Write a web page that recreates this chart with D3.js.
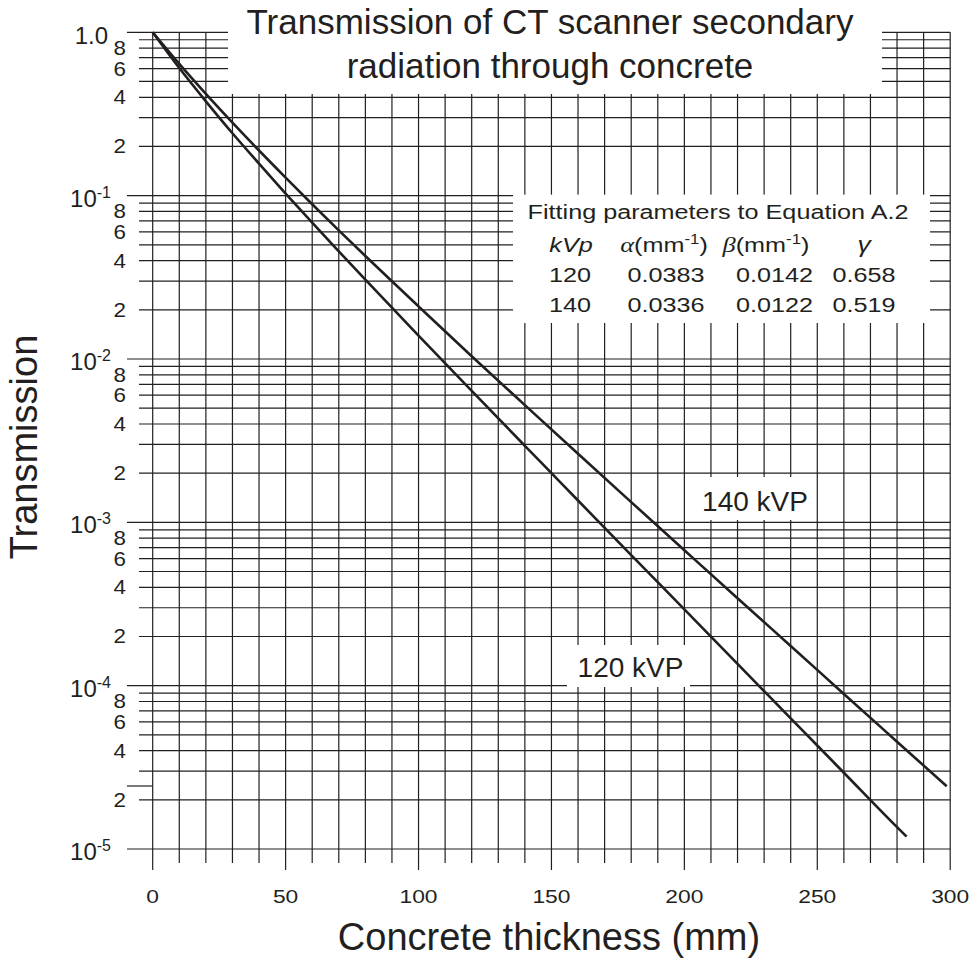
<!DOCTYPE html>
<html><head><meta charset="utf-8">
<script src="https://cdn.jsdelivr.net/npm/d3@7"></script>
<style>
body{margin:0;background:#fff}
svg{display:block}
text{font-family:"Liberation Sans",Arial,Helvetica,sans-serif;fill:#231f20}
</style>
</head><body>
<svg id="c" width="977" height="963"></svg>
<script>
// ---- data ----
const thickness120 = [0,10,20,30,40,50,60,70,80,90,100,120,140,150,160,180,200,220,240,250,260,280,283.6];
const transmission120 = [1.0,0.604,0.378,0.241,0.157,0.103,0.0683,0.0456,0.0306,0.0206,0.0139,0.00637,0.00294,0.00200,0.00136,6.30e-4,2.93e-4,1.36e-4,6.30e-5,4.30e-5,2.93e-5,1.36e-5,1.19e-5];
const thickness140 = [0,10,20,30,40,50,60,70,80,90,100,120,140,160,180,200,220,240,260,280,298.7];
const transmission140 = [1.0,0.641,0.420,0.280,0.189,0.129,0.0886,0.0613,0.0427,0.0299,0.0210,0.0104,0.00522,0.00263,0.00133,6.75e-4,3.43e-4,1.75e-4,8.90e-5,4.54e-5,2.42e-5];
const xTickValues = [0,50,100,150,200,250,300];
const decadeExponents = [0,-1,-2,-3,-4,-5];
const minorMultipliers = [2,3,4,5,6,7,8,9];
const minorLabelDigits = [8,6,4,2];
const titleLines = ["Transmission of CT scanner secondary","radiation through concrete"];
const xTitle = "Concrete thickness (mm)";
const yTitle = "Transmission";
const tableTitle = "Fitting parameters to Equation A.2";
const tableKVp = ["120","140"];
const tableAlpha = ["0.0383","0.0336"];
const tableBeta = ["0.0142","0.0122"];
const tableGamma = ["0.658","0.519"];
const curveLabels = ["120 kVP","140 kVP"];
const strayTickValue = 2.43e-5;

// ---- drawing ----
const ink = "#231f20";
const svg = d3.select("#c");
const x = d3.scaleLinear().domain([0,300]).range([152.7,950.2]);
const y = d3.scaleLog().domain([1e-5,1]).range([849,32.3]);

// text helper with slight horizontal stretch (the reference's small type is wide)
function st(px, py, str, size, sx, anchor){
  const g = svg.append("g").attr("transform",`translate(${px},${py}) scale(${sx},1)`);
  const t = g.append("text").attr("text-anchor",anchor||"middle").attr("font-size",size);
  if(str!==null) t.text(str);
  return t;
}

const grid = svg.append("g").attr("stroke",ink).attr("stroke-width",1.2);

// vertical grid lines every 10 mm
const vTicks = d3.range(0,301,10);
grid.selectAll("line.v").data(vTicks).join("line")
  .attr("x1",d=>x(d)).attr("x2",d=>x(d))
  .attr("y1",y(1)).attr("y2",d=>d%50===0?870:863);

// horizontal grid lines
const hMinor = [];
decadeExponents.filter(e=>e<0).forEach(e=>minorMultipliers.forEach(m=>hMinor.push(m*Math.pow(10,e))));
grid.selectAll("line.hm").data(hMinor).join("line")
  .attr("x1",139).attr("x2",x(300))
  .attr("y1",d=>y(d)).attr("y2",d=>y(d));
grid.selectAll("line.hd").data(decadeExponents).join("line")
  .attr("x1",127).attr("x2",x(300))
  .attr("y1",d=>y(Math.pow(10,d))).attr("y2",d=>y(Math.pow(10,d)));
grid.append("line").attr("x1",127).attr("x2",x(0))
  .attr("y1",y(strayTickValue)).attr("y2",y(strayTickValue));

// white areas that hide the grid (title, table, labels)
const wb = svg.append("g").attr("fill","#fff");
wb.append("rect").attr("x",228).attr("y",0).attr("width",882-228).attr("height",94);
wb.append("rect").attr("x",513).attr("y",194.6).attr("width",930-513).attr("height",323-194.6);
wb.append("rect").attr("x",690).attr("y",477).attr("width",125).attr("height",43);
wb.append("rect").attr("x",567).attr("y",645).attr("width",123).attr("height",42);

// curves
const line = d3.line().x(d=>x(d[0])).y(d=>y(d[1])).curve(d3.curveMonotoneX);
[[thickness120,transmission120],[thickness140,transmission140]].forEach(([t,v])=>{
  svg.append("path").datum(t.map((d,i)=>[d,v[i]]))
    .attr("d",line).attr("fill","none").attr("stroke",ink).attr("stroke-width",2.6);
});

// x tick labels
xTickValues.forEach(d=>st(x(d),903,String(d),19,1.2,"middle"));

// y decade labels
decadeExponents.forEach(e=>{
  const yy = y(Math.pow(10,e));
  if(e===0){
    svg.append("text").attr("x",108).attr("y",yy+12).attr("text-anchor","end")
      .attr("font-size",24).text("1.0");
  } else {
    const t = svg.append("text").attr("x",111).attr("y",yy+11).attr("text-anchor","end").attr("font-size",24);
    t.append("tspan").text("10");
    t.append("tspan").attr("font-size",16).attr("dy",-9).text(String(e));
  }
});
// y minor labels
decadeExponents.filter(e=>e<0).forEach(e=>{
  minorLabelDigits.forEach(m=>{
    st(126,y(m*Math.pow(10,e))+7,String(m),20,1.12,"end");
  });
});

// titles
titleLines.forEach((s,i)=>{
  svg.append("text").attr("x",550).attr("y",34+i*44).attr("text-anchor","middle")
    .attr("font-size",35).text(s);
});
svg.append("text").attr("x",549).attr("y",950).attr("text-anchor","middle")
  .attr("font-size",38).text(xTitle);
svg.append("text").attr("transform","translate(37,447) rotate(-90)")
  .attr("text-anchor","middle").attr("font-size",38).text(yTitle);

// table
const tf = 21, tsx = 1.2;
st(718,219,tableTitle,tf,tsx,"middle");
const colX = [571,664,766,864];
const hy = 252;
st(colX[0],hy,"kVp",tf,tsx,"middle").attr("font-style","italic");
function unitHeader(cx,greek){
  const t = st(cx,hy,null,tf,tsx,"middle");
  t.append("tspan").attr("font-family","'Liberation Serif','Times New Roman',serif").attr("font-style","italic").attr("font-size",tf+1).text(greek);
  t.append("tspan").text("(mm");
  t.append("tspan").attr("font-size",14).attr("dy",-8).text("-1");
  t.append("tspan").attr("dy",8).text(")");
}
unitHeader(colX[1],"α");
unitHeader(colX[2],"β");
st(colX[3],hy,"γ",tf+1,tsx,"middle")
  .attr("font-family","'Liberation Serif','Times New Roman',serif").attr("font-style","italic");
const rowX = [570,666,774.5,864];
[tableKVp,tableAlpha,tableBeta,tableGamma].forEach((col,ci)=>{
  col.forEach((s,ri)=>{
    st(rowX[ci],282+ri*30,s,tf,tsx,"middle");
  });
});

// curve labels
svg.append("text").attr("x",630.5).attr("y",677).attr("text-anchor","middle").attr("font-size",28).text(curveLabels[0]);
svg.append("text").attr("x",755).attr("y",511).attr("text-anchor","middle").attr("font-size",28).text(curveLabels[1]);
</script>
</body></html>
